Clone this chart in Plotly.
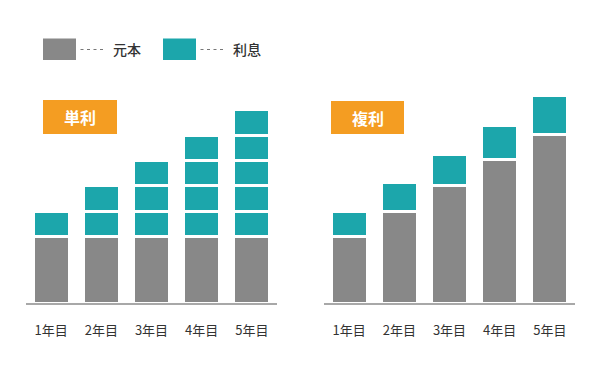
import plotly.graph_objects as go

W, H = 600, 377

years = ["1年目", "2年目", "3年目", "4年目", "5年目"]

# 単利 (simple interest)
simple_principal = [100, 100, 100, 100, 100]
simple_interest_per_year = 38
simple_interest_count = [1, 2, 3, 4, 5]

# 複利 (compound interest)
compound_principal = [100, 138, 176, 215, 253]
compound_interest = [38, 43, 47, 51, 59]

legend_labels = ["元本", "利息"]
panel_titles = ["単利", "複利"]

GRAY = "#888888"
TEAL = "#1ca6ab"
ORANGE = "#f49d22"
TEXT = "#333333"
FONT = "Noto Sans CJK JP"

fig = go.Figure()

line = dict(color="white", width=3)

# left panel
fig.add_trace(go.Bar(x=years, y=simple_principal, marker=dict(color=GRAY, line=line),
                     xaxis="x", yaxis="y", showlegend=False, hoverinfo="skip"))
for k in range(1, max(simple_interest_count) + 1):
    vals = [simple_interest_per_year if c >= k else None for c in simple_interest_count]
    fig.add_trace(go.Bar(x=years, y=vals, marker=dict(color=TEAL, line=line),
                         xaxis="x", yaxis="y", showlegend=False, hoverinfo="skip"))

# right panel
fig.add_trace(go.Bar(x=years, y=compound_principal, marker=dict(color=GRAY, line=line),
                     xaxis="x2", yaxis="y2", showlegend=False, hoverinfo="skip"))
fig.add_trace(go.Bar(x=years, y=compound_interest, marker=dict(color=TEAL, line=line),
                     xaxis="x2", yaxis="y2", showlegend=False, hoverinfo="skip"))

def px(x):
    return x / W

def py(y):
    return 1 - y / H

y_bottom, y_top = 303.3, 63.3
xaxis_common = dict(
    type="category", showgrid=False, zeroline=False,
    showline=True, linecolor="#a8a8a8", linewidth=2,
    ticks="outside", ticklen=14, tickcolor="rgba(0,0,0,0)",
    tickfont=dict(family=FONT, size=13, color=TEXT),
    fixedrange=True,
)
yaxis_common = dict(range=[0, 360], visible=False, showgrid=False, zeroline=False,
                    domain=[py(y_bottom), py(y_top)], fixedrange=True)

fig.update_layout(
    width=W, height=H,
    margin=dict(l=0, r=0, t=0, b=0),
    paper_bgcolor="white", plot_bgcolor="white",
    barmode="stack", bargap=0.28,
    xaxis=dict(domain=[px(26), px(277)], anchor="y", **xaxis_common),
    yaxis=dict(anchor="x", **yaxis_common),
    xaxis2=dict(domain=[px(324), px(575)], anchor="y2", **xaxis_common),
    yaxis2=dict(anchor="x2", **yaxis_common),
    font=dict(family=FONT),
)

shapes = []
annotations = []

# legend
for (x0, x1), col, lab in [((43, 76), GRAY, legend_labels[0]), ((163, 196), TEAL, legend_labels[1])]:
    shapes.append(dict(type="rect", xref="paper", yref="paper",
                       x0=px(x0), x1=px(x1), y0=py(60), y1=py(38.5),
                       fillcolor=col, line=dict(width=0)))
    shapes.append(dict(type="line", xref="paper", yref="paper",
                       x0=px(x1 + 4.5), x1=px(x1 + 30), y0=py(49.5), y1=py(49.5),
                       line=dict(color="#777777", width=1, dash="3px,3.5px")))
    annotations.append(dict(xref="paper", yref="paper", x=px(x1 + 34.5), y=py(49),
                            text=lab, showarrow=False, xanchor="left", yanchor="middle",
                            font=dict(family=FONT, size=14, color=TEXT, weight=500)))

# panel title boxes
for (x0, x1, y0, y1), t in [((43, 117, 100, 134), panel_titles[0]), ((331, 404, 101, 134), panel_titles[1])]:
    shapes.append(dict(type="rect", xref="paper", yref="paper",
                       x0=px(x0), x1=px(x1), y0=py(y1), y1=py(y0),
                       fillcolor=ORANGE, line=dict(width=0)))
    annotations.append(dict(xref="paper", yref="paper", x=px((x0 + x1) / 2), y=py((y0 + y1) / 2),
                            text=t, showarrow=False, xanchor="center", yanchor="middle",
                            font=dict(family=FONT, size=16, color="white", weight="bold")))

fig.update_layout(shapes=shapes, annotations=annotations)

fig.write_html("out.html", config={"displayModeBar": False},
               post_script="document.body.style.margin='0';")
